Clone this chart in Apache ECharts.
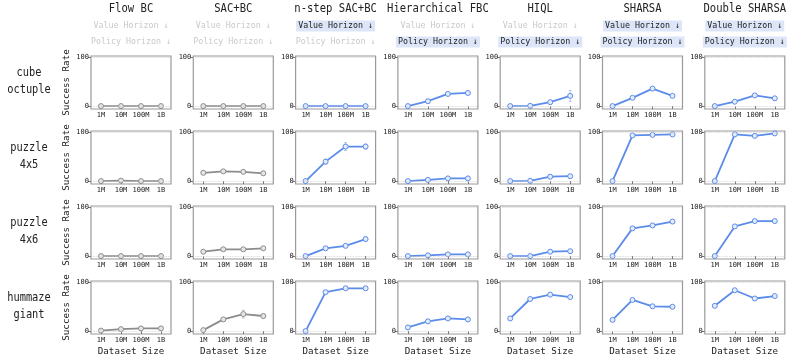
<!DOCTYPE html>
<html>
<head>
<meta charset="utf-8">
<script src="https://cdn.jsdelivr.net/npm/echarts@6/dist/echarts.min.js"></script>
<style>
  html, body { margin: 0; padding: 0; background: #fff; }
  #chart { width: 793px; height: 359px; }
</style>
</head>
<body>
<div id="chart"></div>
<script type="text/javascript">
// ---- data ----
var sizes = ['1M', '10M', '100M', '1B'];
var methods = ['Flow BC', 'SAC+BC', 'n-step SAC+BC', 'Hierarchical FBC', 'HIQL', 'SHARSA', 'Double SHARSA'];
var tasks = ['cube\noctuple', 'puzzle\n4x5', 'puzzle\n4x6', 'hummaze\ngiant'];
var valueHorizon = [false, false, true, false, false, true, true];
var policyHorizon = [false, false, false, true, true, true, true];

// one row per task, one list per method (success rate %)
var cubeOctuple = [[0, 0, 0, 0], [0, 0, 0, 0], [0, 0, 0, 0], [0, 10, 25, 27], [0, 0.5, 8, 21], [0, 17, 36, 21], [0, 9, 22, 16]];
var puzzle4x5 = [[0, 1, 0, 0], [17, 20, 19, 16], [0, 40, 71, 71], [0, 2.5, 5.5, 5.5], [0, 0.5, 9, 10], [0, 94, 95, 96], [0, 96, 93, 98]];
var puzzle4x6 = [[0, 0, 0, 0], [9, 14, 14, 16], [0, 16, 21, 35], [0, 1.5, 3.5, 3.5], [0, 0, 9, 10], [0, 57, 63, 71], [0, 61, 72, 72]];
var hummazeGiant = [[1, 4, 5.5, 5.5], [2, 24, 35, 31], [0, 80, 88, 88], [7.5, 20, 26, 24], [26, 66, 75, 70], [23, 64, 51, 50], [52, 84, 67, 72]];

// error bar half widths
var cubeOctupleErr = [[0, 0, 0, 0], [0, 0, 0, 0], [0, 0, 0, 0], [0, 1, 2, 2], [0, 0, 2, 11], [0, 2, 2, 2], [0, 1, 2, 2]];
var puzzle4x5Err = [[0, 0, 0, 0], [1, 1, 1, 1], [0, 5, 8, 5], [0, 1, 1, 1], [0, 0, 1, 1], [0, 1, 1, 1], [0, 1, 1, 1]];
var puzzle4x6Err = [[0, 0, 0, 0], [1, 1, 1, 1], [0, 3, 2, 5], [0, 0, 1, 1], [0, 0, 1, 1], [0, 2, 2, 2], [0, 2, 2, 2]];
var hummazeGiantErr = [[0, 1, 1, 1], [1, 2, 8, 5], [0, 2, 2, 2], [1, 2, 2, 2], [2, 2, 2, 2], [2, 2, 2, 2], [2, 2, 2, 2]];

var rowsData = [cubeOctuple, puzzle4x5, puzzle4x6, hummazeGiant];
var rowsErr = [cubeOctupleErr, puzzle4x5Err, puzzle4x6Err, hummazeGiantErr];

// ---- layout ----
var MONO = '"DejaVu Sans Mono", "Liberation Mono", monospace';
var colLeft = 91, colStep = 102.3, boxW = 80;
var rowTop = 56, rowStep = 75, boxH = 53;
var BLUE = '#5b8cea', GRAY = '#8c8c8c';

var grids = [], xAxes = [], yAxes = [], series = [], graphics = [];

methods.forEach(function (m, c) {
    var cx = colLeft + c * colStep + boxW / 2;
    // narrower typewriter look
    graphics.push({
        type: 'text', x: cx, y: 9, scaleX: 0.88,
        style: { text: m, font: '12px ' + MONO, fill: '#222', align: 'center', verticalAlign: 'middle' }
    });
    var hv = valueHorizon[c], hp = policyHorizon[c];
    graphics.push({
        type: 'text', x: cx, y: 26,
        style: {
            text: 'Value Horizon ↓', font: '8.3px ' + MONO, fill: hv ? '#222' : '#c9c9c9',
            align: 'center', verticalAlign: 'middle',
            backgroundColor: hv ? '#dde6f8' : 'transparent', padding: [2, 2, 1, 2]
        }
    });
    graphics.push({
        type: 'text', x: cx, y: 42,
        style: {
            text: 'Policy Horizon ↓', font: '8.3px ' + MONO, fill: hp ? '#222' : '#c9c9c9',
            align: 'center', verticalAlign: 'middle',
            backgroundColor: hp ? '#dde6f8' : 'transparent', padding: [2, 2, 1, 2]
        }
    });
});

tasks.forEach(function (t, r) {
    graphics.push({
        type: 'text', x: 29, y: rowTop + r * rowStep + boxH / 2 - 1, scaleX: 0.9,
        style: { text: t, font: '11.5px ' + MONO, fill: '#222', align: 'center', verticalAlign: 'middle', lineHeight: 17 }
    });
});

var idx = 0;
rowsData.forEach(function (rowVals, r) {
    methods.forEach(function (m, c) {
        var col = c < 2 ? GRAY : BLUE;
        var errCol = c < 2 ? '#c4c4c4' : '#aec5f3';
        grids.push({
            left: colLeft + c * colStep, top: rowTop + r * rowStep, width: boxW, height: boxH,
            show: true, borderColor: '#9a9a9a', borderWidth: 1.2, backgroundColor: 'transparent'
        });
        xAxes.push({
            type: 'category', gridIndex: idx, data: sizes, boundaryGap: true,
            axisLine: { show: false },
            axisTick: { show: true, alignWithLabel: true, length: 3, lineStyle: { color: '#777' } },
            axisLabel: { fontFamily: MONO, fontSize: 7, color: '#222', margin: 3, interval: 0 },
            splitLine: { show: false },
            name: r === 3 ? 'Dataset Size' : '', nameLocation: 'middle', nameGap: 13,
            nameTextStyle: { fontFamily: MONO, fontSize: 9.2, color: '#222' }
        });
        yAxes.push({
            type: 'value', gridIndex: idx, min: -6, max: 103,
            axisLine: { show: false },
            axisTick: { show: true, customValues: [0, 100], length: 3, lineStyle: { color: '#777' } },
            axisLabel: { customValues: [0, 100], fontFamily: MONO, fontSize: 7, color: '#222', margin: 2 },
            splitLine: { show: false },
            name: c === 0 ? 'Success Rate' : '', nameLocation: 'middle', nameGap: 20,
            nameTextStyle: { fontFamily: MONO, fontSize: 9.2, color: '#222' }
        });
        var errs = rowsErr[r][c];
        series.push({
            type: 'custom', xAxisIndex: idx, yAxisIndex: idx, z: 1, silent: true,
            data: rowVals[c].map(function (v, i) { return [i, v - errs[i], v + errs[i]]; }),
            renderItem: function (params, api) {
                var lo = api.coord([api.value(0), api.value(1)]);
                var hi = api.coord([api.value(0), api.value(2)]);
                if (Math.abs(lo[1] - hi[1]) < 1) return null;
                return {
                    type: 'group', children: [
                        { type: 'line', shape: { x1: lo[0], y1: lo[1], x2: hi[0], y2: hi[1] }, style: { stroke: errCol, lineWidth: 1 } },
                        { type: 'line', shape: { x1: lo[0] - 1.5, y1: lo[1], x2: lo[0] + 1.5, y2: lo[1] }, style: { stroke: errCol, lineWidth: 1 } },
                        { type: 'line', shape: { x1: hi[0] - 1.5, y1: hi[1], x2: hi[0] + 1.5, y2: hi[1] }, style: { stroke: errCol, lineWidth: 1 } }
                    ]
                };
            }
        });
        series.push({
            type: 'line', xAxisIndex: idx, yAxisIndex: idx, z: 3,
            data: rowVals[c],
            symbol: 'circle', symbolSize: 5, showAllSymbol: true,
            lineStyle: { color: col, width: 1.8 },
            itemStyle: { color: c < 2 ? '#e6e6e6' : '#e4ecfc', borderColor: col, borderWidth: 1 },
            markLine: {
                silent: true, symbol: 'none', label: { show: false }, animation: false,
                lineStyle: { type: 'dotted', color: '#cfcfcf', width: 0.8 },
                data: [{ yAxis: 0 }, { yAxis: 100 }]
            }
        });
        idx++;
    });
});

var myChart = echarts.init(document.getElementById('chart'));
myChart.setOption({
    animation: false,
    backgroundColor: '#fff',
    grid: grids,
    xAxis: xAxes,
    yAxis: yAxes,
    series: series,
    graphic: graphics
});
</script>
</body>
</html>
